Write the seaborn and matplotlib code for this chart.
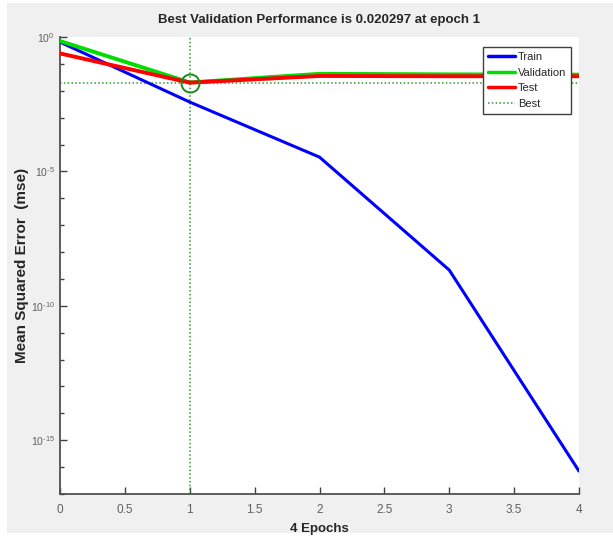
import numpy as np
import pandas as pd
import matplotlib
matplotlib.use("Agg")
import matplotlib.pyplot as plt
from matplotlib.patches import Rectangle
from matplotlib.lines import Line2D
from matplotlib.ticker import FixedLocator, NullFormatter
import seaborn as sns

# Training record: mean squared error per epoch
epochs = [0, 1, 2, 3, 4]
train_mse = [0.646, 3.8e-3, 3.4e-5, 2.14e-9, 7.1e-17]
val_mse = [0.708, 0.020297, 0.0427, 0.0407, 0.0398]
test_mse = [0.245, 0.0200, 0.0355, 0.0347, 0.0347]
series_names = ["Train", "Validation", "Test"]
best_epoch = 1
best_perf = 0.020297

x_ticks = [0, 0.5, 1, 1.5, 2, 2.5, 3, 3.5, 4]
x_tick_labels = ["0", "0.5", "1", "1.5", "2", "2.5", "3", "3.5", "4"]
y_major = [1e0, 1e-5, 1e-10, 1e-15]
y_major_labels = [r"$10^{0}$", r"$10^{\text{-}5}$", r"$10^{\text{-}10}$", r"$10^{\text{-}15}$"]

df = pd.DataFrame({
    "epoch": epochs * 3,
    "mse": train_mse + val_mse + test_mse,
    "series": sum([[n] * len(epochs) for n in series_names], []),
})

sns.set_style("white")
plt.rcParams["font.family"] = ["Liberation Sans", "DejaVu Sans"]
plt.rcParams["mathtext.fontset"] = "custom"
plt.rcParams["mathtext.rm"] = "Liberation Sans"
plt.rcParams["mathtext.it"] = "Liberation Sans"

fig = plt.figure(figsize=(6.13, 5.40), dpi=100, facecolor="white")
fig.patches.append(Rectangle((7 / 613, 7 / 540), 1 - 7 / 613, (533 - 3) / 540,
                             transform=fig.transFigure, facecolor="#f0f0f0",
                             edgecolor="none", zorder=-10))
ax = fig.add_axes([60 / 613, 1 - 494 / 540, (579 - 60) / 613, (494 - 37) / 540])
ax.set_facecolor("white")

palette = {"Train": "#0000ff", "Validation": "#00dd00", "Test": "#ff0000"}
widths = {"Train": 2.2, "Validation": 2.8, "Test": 2.8}
for name in series_names:
    sns.lineplot(data=df[df["series"] == name], x="epoch", y="mse",
                 color=palette[name], linewidth=widths[name], ax=ax,
                 legend=False, zorder=3)

best_color = "#2e9a2e"
ax.axhline(best_perf, color=best_color, linestyle=(0, (1, 1.5)), linewidth=1.1, zorder=2)
ax.axvline(best_epoch, color=best_color, linestyle=(0, (1, 1.5)), linewidth=1.1, zorder=2)
ax.plot([best_epoch], [best_perf], marker="o", markersize=13, markerfacecolor="none",
        markeredgecolor="#1a8a1a", markeredgewidth=1.4, zorder=4)

ax.set_yscale("log")
ax.set_xlim(0, 4)
ax.set_ylim(1e-17, 1e0)
ax.set_xticks(x_ticks)
ax.set_xticklabels(x_tick_labels)
ax.yaxis.set_major_locator(FixedLocator(y_major))
ax.set_yticklabels(y_major_labels)
ax.yaxis.set_minor_locator(FixedLocator([10.0 ** -k for k in range(0, 18)]))
ax.yaxis.set_minor_formatter(NullFormatter())

ax.tick_params(axis="both", which="major", direction="in", length=5, width=1,
               color="#404040", labelcolor="#606060")
ax.tick_params(axis="x", which="major", labelsize=8.5, pad=7)
ax.tick_params(axis="y", which="major", labelsize=7.5, pad=4)
ax.tick_params(axis="y", which="minor", direction="in", length=3, width=1,
               color="#404040", left=True)
ax.tick_params(axis="x", bottom=True)
ax.tick_params(axis="y", left=True)

for s in ["top", "right"]:
    ax.spines[s].set_visible(False)
for s in ["left", "bottom"]:
    ax.spines[s].set_color("#505050")
    ax.spines[s].set_linewidth(1.3)

ax.set_title("Best Validation Performance is 0.020297 at epoch 1",
             fontsize=9.5, fontweight="bold", pad=10)
ax.set_xlabel("4 Epochs", fontsize=9.5, fontweight="bold", labelpad=5)
ax.set_ylabel("Mean Squared Error  (mse)", fontsize=11, fontweight="bold")
ax.yaxis.set_label_coords((29 - 60) / 519, 0.5)

handles = [Line2D([], [], color=palette[n], linewidth=2.5) for n in series_names]
handles.append(Line2D([], [], color=best_color, linestyle=(0, (1, 1.5)), linewidth=1.1))
leg = ax.legend(handles, series_names + ["Best"], loc="upper right",
                bbox_to_anchor=(0.985, 0.978), frameon=True, fancybox=False,
                prop={"size": 8},
                handlelength=2.4, handletextpad=0.3, borderpad=0.45, labelspacing=0.5,
                borderaxespad=0)
leg.get_frame().set_edgecolor("#404040")
leg.get_frame().set_linewidth(1.0)
leg.get_frame().set_facecolor("white")
leg.get_frame().set_alpha(1)

fig.savefig("out.png", dpi=100, facecolor=fig.get_facecolor())
